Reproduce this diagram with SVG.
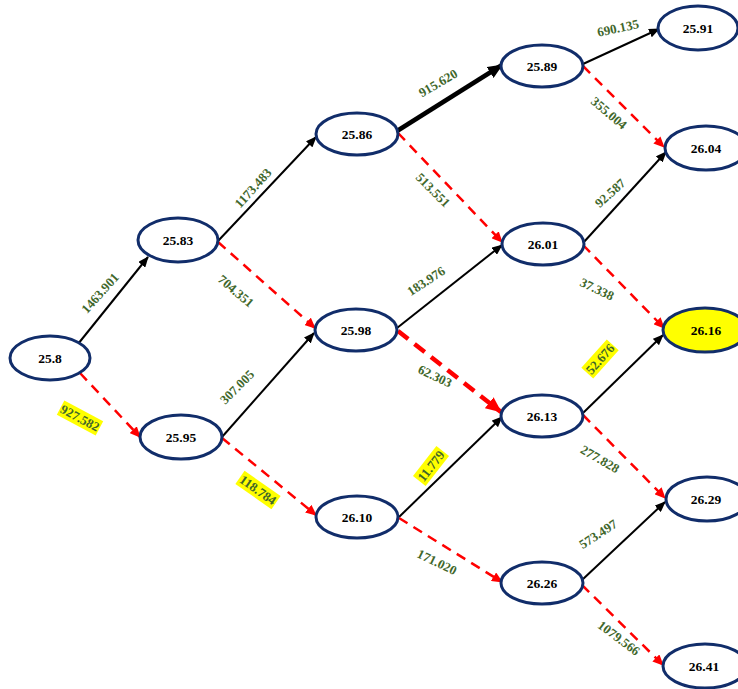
<svg xmlns="http://www.w3.org/2000/svg" width="738" height="689" viewBox="0 0 738 689">
  <defs>
    <marker id="ah-k" markerUnits="userSpaceOnUse" markerWidth="11" markerHeight="9" refX="10" refY="4.5" orient="auto">
      <path d="M0,0 L11,4.5 L0,9 z" fill="#000"/>
    </marker>
    <marker id="ah-k-big" markerUnits="userSpaceOnUse" markerWidth="15" markerHeight="13" refX="14" refY="6.5" orient="auto">
      <path d="M0,0 L15,6.5 L0,13 z" fill="#000"/>
    </marker>
    <marker id="ah-r" markerUnits="userSpaceOnUse" markerWidth="11" markerHeight="10" refX="10" refY="5" orient="auto">
      <path d="M0,0 L11,5 L0,10 z" fill="#FF0000"/>
    </marker>
    <marker id="ah-r-big" markerUnits="userSpaceOnUse" markerWidth="16" markerHeight="14" refX="15" refY="7" orient="auto">
      <path d="M0,0 L16,7 L0,14 z" fill="#FF0000"/>
    </marker>
  </defs>
  <style>
    .node ellipse { fill: #FFFFFF; stroke: #112D6A; stroke-width: 3; }
    .node.hl ellipse { fill: #FFFF00; }
    .node text { font-family: "Liberation Serif", "Times New Roman", serif; font-weight: bold; font-size: 13.5px; fill: #000; text-anchor: middle; dominant-baseline: central; }
    .up { stroke: #000; stroke-width: 2; fill: none; marker-end: url(#ah-k); }
    .up.thick { stroke-width: 4.5; marker-end: url(#ah-k-big); }
    .down { stroke: #FF0000; stroke-width: 2.5; fill: none; stroke-dasharray: 10 7; marker-end: url(#ah-r); }
    .down.thick { stroke-width: 4.5; stroke-dasharray: 13 8; marker-end: url(#ah-r-big); }
    .lbl text { font-family: "Liberation Serif", "Times New Roman", serif; font-weight: bold; font-size: 13px; fill: #3F672B; text-anchor: middle; dominant-baseline: central; }
    .lbl rect { fill: #FFFF00; }
  </style>

  <rect width="738" height="689" fill="#FFFFFF"/>

  <!-- connectors: solid black = up move, dashed red = down move -->
  <g id="connectors">
    <line class="up" x1="78" y1="344" x2="148" y2="257"/>
    <line class="down" x1="80" y1="373" x2="140" y2="437"/>
    <line class="up" x1="218" y1="241" x2="316" y2="137"/>
    <line class="down" x1="218" y1="242" x2="315" y2="328"/>
    <line class="up" x1="222" y1="437" x2="314" y2="333"/>
    <line class="down" x1="222" y1="438" x2="316" y2="515"/>
    <line class="up thick" x1="397" y1="131" x2="502" y2="65"/>
    <line class="down" x1="398" y1="133" x2="502" y2="242"/>
    <line class="up" x1="397" y1="328" x2="502" y2="245"/>
    <line class="down thick" x1="398" y1="331" x2="501" y2="412"/>
    <line class="up" x1="399" y1="517" x2="502" y2="417"/>
    <line class="down" x1="399" y1="518" x2="502" y2="582"/>
    <line class="up" x1="583" y1="64" x2="659" y2="29"/>
    <line class="down" x1="583" y1="66" x2="664" y2="147"/>
    <line class="up" x1="583" y1="243" x2="666" y2="152"/>
    <line class="down" x1="583" y1="245" x2="664" y2="328"/>
    <line class="up" x1="583" y1="413" x2="663" y2="335"/>
    <line class="down" x1="583" y1="415" x2="665" y2="498"/>
    <line class="up" x1="582" y1="580" x2="665" y2="502"/>
    <line class="down" x1="582" y1="585" x2="663" y2="665"/>
  </g>

  <!-- edge values -->
  <g id="edge-labels">
    <g class="lbl" transform="translate(100,293) rotate(-48)"><text>1463.901</text></g>
    <g class="lbl" transform="translate(80,418) rotate(28)"><rect x="-22" y="-8" width="44" height="16"/><text>927.582</text></g>
    <g class="lbl" transform="translate(253,188) rotate(-48)"><text>1173.483</text></g>
    <g class="lbl" transform="translate(236,291) rotate(40)"><text>704.351</text></g>
    <g class="lbl" transform="translate(237,387) rotate(-45)"><text>307.005</text></g>
    <g class="lbl" transform="translate(258,490) rotate(35)"><rect x="-22" y="-8" width="44" height="16"/><text>118.784</text></g>
    <g class="lbl" transform="translate(438,83) rotate(-30)"><text>915.620</text></g>
    <g class="lbl" transform="translate(433,190) rotate(45)"><text>513.551</text></g>
    <g class="lbl" transform="translate(426,281) rotate(-33)"><text>183.976</text></g>
    <g class="lbl" transform="translate(435,376) rotate(25)"><text>62.303</text></g>
    <g class="lbl" transform="translate(431,466) rotate(-52)"><rect x="-19" y="-8" width="38" height="16"/><text>11.779</text></g>
    <g class="lbl" transform="translate(437,562) rotate(26)"><text>171.020</text></g>
    <g class="lbl" transform="translate(618,28) rotate(-12)"><text>690.135</text></g>
    <g class="lbl" transform="translate(609,113) rotate(40)"><text>355.004</text></g>
    <g class="lbl" transform="translate(610,193) rotate(-42)"><text>92.587</text></g>
    <g class="lbl" transform="translate(597,289) rotate(25)"><text>37.338</text></g>
    <g class="lbl" transform="translate(600,359) rotate(-48)"><rect x="-19" y="-8" width="38" height="16"/><text>52.676</text></g>
    <g class="lbl" transform="translate(600,459) rotate(30)"><text>277.828</text></g>
    <g class="lbl" transform="translate(598,534) rotate(-33)"><text>573.497</text></g>
    <g class="lbl" transform="translate(619,638) rotate(37)"><text>1079.566</text></g>
  </g>

  <!-- lattice nodes -->
  <g id="n-25-8" class="node"><ellipse cx="50" cy="358" rx="40" ry="22"/><text x="50" y="358">25.8</text></g>
  <g id="n-25-83" class="node"><ellipse cx="178" cy="240" rx="40" ry="22"/><text x="178" y="240">25.83</text></g>
  <g id="n-25-95" class="node"><ellipse cx="181" cy="437" rx="41" ry="22"/><text x="181" y="437">25.95</text></g>
  <g id="n-25-86" class="node"><ellipse cx="357" cy="134" rx="41" ry="21"/><text x="357" y="134">25.86</text></g>
  <g id="n-25-98" class="node"><ellipse cx="356" cy="330" rx="41" ry="21"/><text x="356" y="330">25.98</text></g>
  <g id="n-26-10" class="node"><ellipse cx="357" cy="517" rx="41" ry="21"/><text x="357" y="517">26.10</text></g>
  <g id="n-25-89" class="node"><ellipse cx="542" cy="66" rx="41" ry="21"/><text x="542" y="66">25.89</text></g>
  <g id="n-26-01" class="node"><ellipse cx="543" cy="244" rx="41" ry="21"/><text x="543" y="244">26.01</text></g>
  <g id="n-26-13" class="node"><ellipse cx="542" cy="416" rx="41" ry="21"/><text x="542" y="416">26.13</text></g>
  <g id="n-26-26" class="node"><ellipse cx="542" cy="583" rx="41" ry="21"/><text x="542" y="583">26.26</text></g>
  <g id="n-25-91" class="node"><ellipse cx="698" cy="28" rx="40" ry="22"/><text x="698" y="28">25.91</text></g>
  <g id="n-26-04" class="node"><ellipse cx="706" cy="148" rx="41" ry="22"/><text x="706" y="148">26.04</text></g>
  <g id="n-26-16" class="node hl"><ellipse cx="705" cy="330" rx="42" ry="22"/><text x="706" y="330">26.16</text></g>
  <g id="n-26-29" class="node"><ellipse cx="707" cy="499" rx="41" ry="22"/><text x="706" y="499">26.29</text></g>
  <g id="n-26-41" class="node"><ellipse cx="705" cy="666" rx="42" ry="22"/><text x="704" y="666">26.41</text></g>
</svg>
